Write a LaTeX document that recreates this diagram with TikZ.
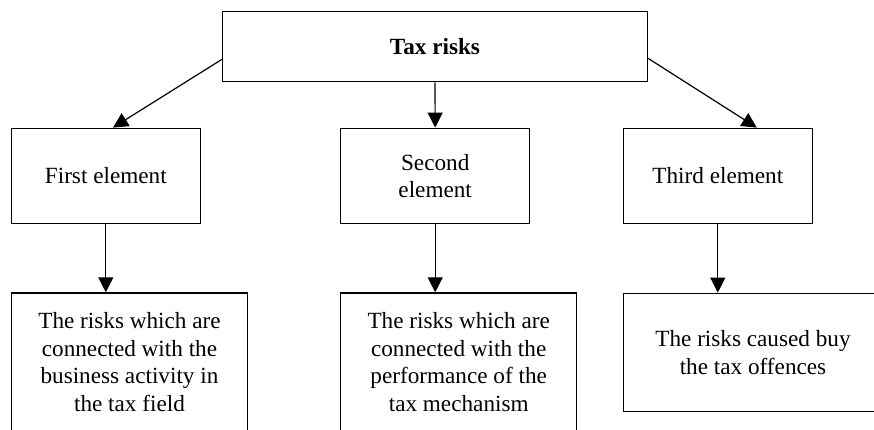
\documentclass[tikz,border=0pt]{standalone}
\usepackage{fontspec}
\setmainfont{Liberation Serif}
\usetikzlibrary{arrows.meta,positioning}

\tikzset{
  box/.style={draw,line width=0.7pt,align=center,inner sep=2pt,
    font=\fontsize{11.6}{13.7}\selectfont},
  elem/.style={box,minimum width=94.5pt,minimum height=47.5pt},
  riskbox/.style={box,minimum width=118pt},
  arr/.style={line width=0.6pt,-{Triangle[length=7.5pt,width=7.5pt]}}
}

\begin{document}
\begin{tikzpicture}[x=0.5pt,y=-0.5pt]
        \clip (0,0) rectangle (874,429);
        % top
        \node[box,minimum width=212.3pt,minimum height=35pt,font=\fontsize{11.6}{13.7}\selectfont\bfseries] (tax) at (435,46.7) {Tax risks};
        % elements
        \node[elem] (first) at (105.8,175.8) {First element};
        \node[elem] (second) at (435.2,175.8) {Second\\element};
        \node[elem] (third) at (717.8,175.8) {Third element};
        % risks
        \node[riskbox,minimum height=69pt] (riskA) at (129.5,362) {The risks which are\\connected with the\\business activity in\\the tax field};
        \node[riskbox,minimum height=69pt] (riskB) at (458.7,362) {The risks which are\\connected with the\\performance of the\\tax mechanism};
        \node[riskbox,minimum width=129.7pt,minimum height=59.2pt] (riskC) at (753,352.5) {The risks caused buy\\the tax offences};
        % arrows
        \draw[arr] ([yshift=-6.3pt]tax.west) -- ([xshift=3.6pt]first.north);
        \draw[arr] (tax.south) -- (second.north);
        \draw[arr] ([yshift=-5.8pt]tax.east) -- ([xshift=19.5pt]third.north);
        \draw[arr] (first.south) -- (first.south |- riskA.north);
        \draw[arr] (second.south) -- (second.south |- riskB.north);
        \draw[arr] (third.south) -- (third.south |- riskC.north);
\end{tikzpicture}
\end{document}
